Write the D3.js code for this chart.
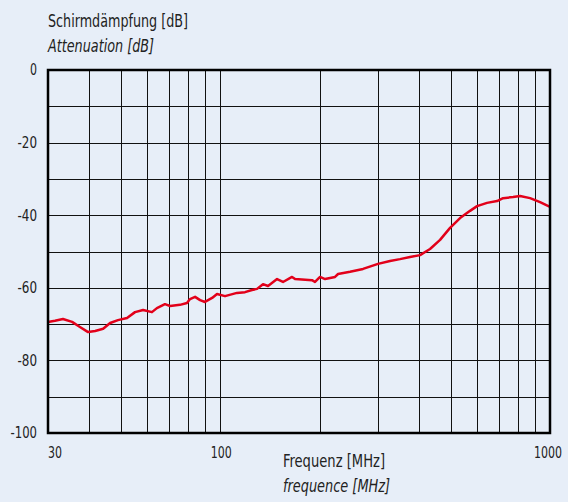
<!DOCTYPE html>
<html>
<head>
<meta charset="utf-8">
<script src="https://cdn.jsdelivr.net/npm/d3@7"></script>
<style>
  body { margin: 0; background: #e7eef8; }
  svg { display: block; }
  text { font-family: "DejaVu Sans Condensed", "Liberation Sans Narrow", sans-serif; fill: #222; }
</style>
</head>
<body>
<svg id="chart" width="568" height="502"></svg>
<script>
// Measured curve (frequency in MHz, attenuation in dB).
const freq = [30, 31.5, 33.3, 35.5, 37.5, 39.7, 41.7, 44.1, 46.3, 48.9, 52.1, 55.1, 58.3, 62, 64.2, 67.9, 70.4, 75.4, 79.2, 80.9, 83.8, 86.8, 89.8, 94.4, 97.7, 103.3, 112.3, 118.8, 124.7, 129.2, 134.7, 139.5, 148.6, 154.9, 165, 168.5, 189.7, 193.7, 200.6, 207.8, 222.8, 227.5, 247.4, 270.9, 300.8, 327.1, 350.7, 376.2, 403.5, 432.6, 464, 497.5, 533.5, 572.1, 600.8, 644.2, 690.8, 720.5, 772.7, 811.3, 870, 932.9, 1000];
const atten = [-69.4, -69.1, -68.6, -69.4, -70.8, -72.2, -71.9, -71.3, -69.7, -68.9, -68.3, -66.7, -66.1, -66.7, -65.6, -64.5, -65.0, -64.7, -64.2, -63.1, -62.5, -63.4, -63.9, -62.8, -61.7, -62.3, -61.4, -61.2, -60.6, -60.3, -59.0, -59.5, -57.6, -58.4, -57.0, -57.6, -57.9, -58.4, -57.0, -57.6, -57.0, -56.2, -55.6, -54.8, -53.4, -52.6, -52.1, -51.5, -51.0, -49.3, -46.8, -43.5, -40.8, -38.8, -37.5, -36.6, -36.1, -35.3, -35.0, -34.7, -35.3, -36.4, -37.7];

// Grid lines and tick labels.
const xGrid = [30, 40, 50, 60, 70, 80, 90, 100, 200, 300, 400, 500, 600, 700, 800, 900, 1000];
const xLabels = [30, 100, 1000];
const yGrid = [0, -10, -20, -30, -40, -50, -60, -70, -80, -90, -100];
const yLabels = [0, -20, -40, -60, -80, -100];

const svg = d3.select("#chart");
const plotL = 48, plotR = 550, plotT = 70, plotB = 433;

const x = d3.scaleLog().domain([30, 1000]).range([plotL, plotR]);
const y = d3.scaleLinear().domain([0, -100]).range([plotT, plotB]);

// Narrow digit width, to mimic the condensed face of the original.
function numWidth(s) {
  let w = 0;
  for (const c of s) w += c === "-" ? 5.5 : 7;
  return w;
}

// Vertical grid.
svg.append("g")
  .selectAll("line")
  .data(xGrid)
  .join("line")
  .attr("x1", d => Math.round(x(d)) + 0.5)
  .attr("x2", d => Math.round(x(d)) + 0.5)
  .attr("y1", plotT)
  .attr("y2", plotB)
  .attr("stroke", "#111")
  .attr("stroke-width", 1);

// Horizontal grid.
svg.append("g")
  .selectAll("line")
  .data(yGrid)
  .join("line")
  .attr("x1", plotL)
  .attr("x2", plotR)
  .attr("y1", d => Math.round(y(d)) + 0.5)
  .attr("y2", d => Math.round(y(d)) + 0.5)
  .attr("stroke", "#111")
  .attr("stroke-width", 1);

// Curve.
const line = d3.line()
  .x((d, i) => x(freq[i]))
  .y(d => y(d));

svg.append("path")
  .datum(atten)
  .attr("d", line)
  .attr("fill", "none")
  .attr("stroke", "#e2001a")
  .attr("stroke-width", 2.5)
  .attr("stroke-linejoin", "round");

// Frame.
svg.append("rect")
  .attr("x", plotL)
  .attr("y", plotT)
  .attr("width", plotR - plotL)
  .attr("height", plotB - plotT)
  .attr("fill", "none")
  .attr("stroke", "#000")
  .attr("stroke-width", 2.5);

// Y labels.
svg.append("g")
  .selectAll("text")
  .data(yLabels)
  .join("text")
  .attr("x", 37)
  .attr("y", d => y(d))
  .attr("dy", "0.36em")
  .attr("text-anchor", "end")
  .attr("font-size", 15)
  .attr("textLength", d => numWidth(String(d)))
  .attr("lengthAdjust", "spacingAndGlyphs")
  .text(d => String(d));

// X labels.
svg.append("g")
  .selectAll("text")
  .data(xLabels)
  .join("text")
  .attr("x", d => d === 30 ? x(d) : d === 1000 ? x(d) - 2 : x(d) + 1)
  .attr("y", 458)
  .attr("text-anchor", d => d === 30 ? "start" : "middle")
  .attr("font-size", 15)
  .attr("textLength", d => numWidth(String(d)))
  .attr("lengthAdjust", "spacingAndGlyphs")
  .text(d => d);

// Axis titles.
function title(tx, ty, txt, len, italic) {
  svg.append("text")
    .attr("x", tx)
    .attr("y", ty)
    .attr("font-size", 18)
    .attr("font-style", italic ? "italic" : "normal")
    .attr("textLength", len)
    .attr("lengthAdjust", "spacingAndGlyphs")
    .text(txt);
}
title(48, 27, "Schirmdämpfung [dB]", 140, false);
title(48, 52, "Attenuation [dB]", 106, true);
title(283, 467, "Frequenz [MHz]", 102, false);
title(283, 492, "frequence [MHz]", 107, true);
</script>
</body>
</html>
